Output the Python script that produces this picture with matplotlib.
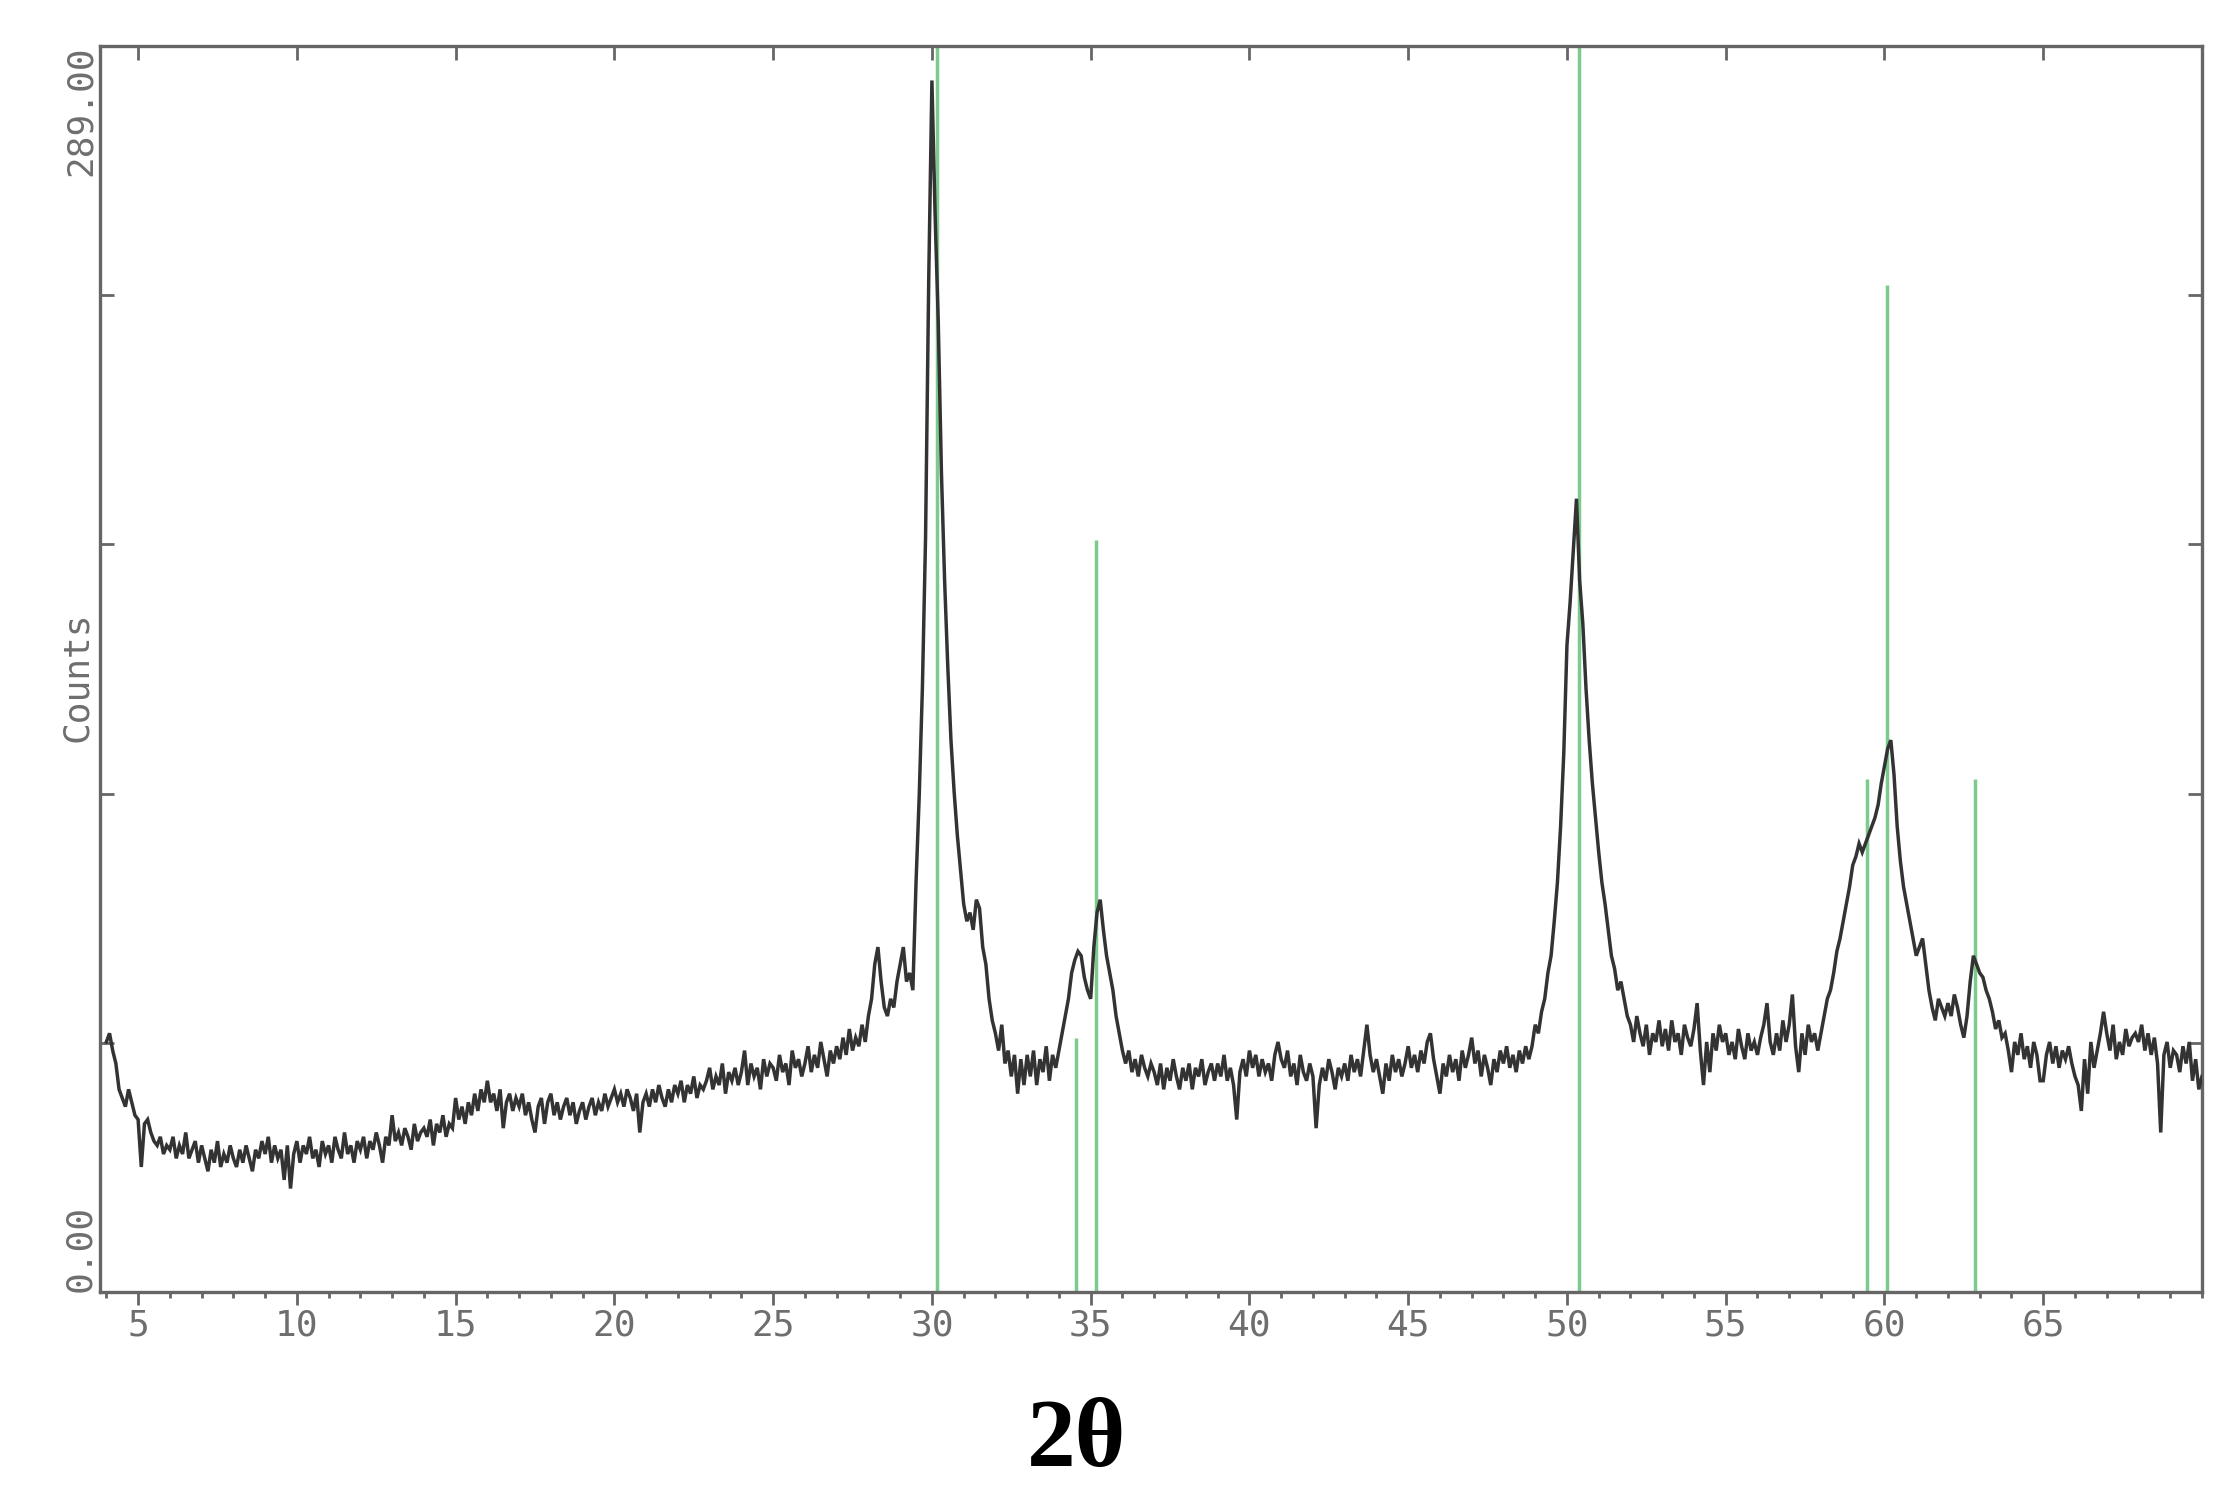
import numpy as np
import matplotlib
matplotlib.use("Agg")
import matplotlib.pyplot as plt
from matplotlib.ticker import MultipleLocator, FixedLocator

# ---------------- data ----------------
scan_start = 4.0      # degrees 2-theta
scan_step = 0.1       # degrees per point

counts_rows = [
    [58, 60, 56, 53, 47, 45, 43, 47, 44, 41],   # 4.0 - 4.9
    [40, 29, 39, 40, 37, 35, 34, 36, 32, 34],   # 5
    [33, 36, 31, 34, 32, 37, 31, 33, 35, 30],   # 6
    [34, 31, 28, 33, 30, 35, 29, 32, 30, 34],   # 7
    [31, 29, 33, 30, 34, 31, 28, 33, 31, 35],   # 8
    [32, 36, 30, 34, 31, 33, 26, 34, 24, 32],   # 9
    [35, 30, 34, 32, 36, 31, 33, 29, 35, 32],   # 10
    [34, 30, 36, 33, 31, 37, 32, 34, 30, 35],   # 11
    [33, 36, 31, 35, 33, 37, 34, 30, 36, 34],   # 12
    [41, 35, 37, 34, 38, 36, 33, 39, 35, 37],   # 13
    [38, 36, 40, 34, 39, 37, 41, 36, 39, 38],   # 14
    [45, 40, 43, 39, 44, 41, 46, 42, 47, 44],   # 15
    [49, 44, 46, 42, 47, 38, 44, 46, 42, 45],   # 16
    [43, 46, 41, 44, 40, 37, 43, 45, 39, 44],   # 17
    [46, 41, 44, 40, 43, 45, 41, 44, 39, 42],   # 18
    [44, 40, 43, 45, 41, 44, 42, 46, 43, 45],   # 19
    [47, 44, 46, 43, 47, 45, 42, 46, 37, 44],   # 20
    [46, 43, 47, 44, 48, 45, 43, 47, 44, 48],   # 21
    [46, 49, 44, 48, 46, 50, 45, 48, 47, 49],   # 22
    [52, 47, 50, 48, 53, 46, 51, 49, 52, 48],   # 23
    [51, 56, 48, 53, 50, 52, 47, 54, 50, 53],   # 24
    [52, 49, 55, 51, 53, 48, 56, 52, 54, 50],   # 25
    [53, 57, 51, 55, 52, 58, 54, 50, 56, 53],   # 26
    [57, 54, 59, 55, 61, 56, 59, 57, 62, 58],   # 27
    [64, 68, 76, 80, 72, 66, 64, 68, 66, 72],   # 28
    [76, 80, 72, 74, 70, 95, 115, 140, 175, 235],  # 29
    [281, 250, 225, 190, 165, 145, 128, 116, 106, 98],  # 30
    [90, 86, 88, 84, 91, 89, 80, 76, 68, 63],   # 31
    [60, 56, 62, 53, 56, 50, 55, 46, 54, 48],   # 32
    [55, 50, 56, 48, 54, 51, 57, 49, 55, 52],   # 33
    [56, 60, 64, 68, 74, 77, 79, 78, 73, 70],   # 34
    [68, 80, 88, 91, 84, 78, 74, 70, 64, 60],   # 35
    [56, 53, 56, 51, 54, 50, 55, 52, 50, 53],   # 36
    [51, 48, 53, 47, 52, 49, 54, 50, 47, 52],   # 37
    [49, 53, 47, 52, 50, 54, 48, 51, 53, 49],   # 38
    [53, 50, 55, 49, 52, 48, 40, 51, 54, 50],   # 39
    [56, 52, 55, 50, 54, 51, 53, 49, 55, 58],   # 40
    [54, 52, 56, 50, 53, 48, 55, 51, 49, 53],   # 41
    [50, 38, 48, 52, 49, 54, 51, 47, 52, 50],   # 42
    [53, 49, 55, 51, 54, 50, 56, 62, 55, 51],   # 43
    [54, 50, 46, 53, 49, 55, 51, 54, 50, 53],   # 44
    [57, 52, 55, 51, 56, 53, 58, 60, 54, 50],   # 45
    [46, 53, 50, 55, 51, 54, 49, 56, 52, 55],   # 46
    [59, 53, 56, 50, 55, 52, 48, 54, 51, 56],   # 47
    [53, 57, 52, 55, 51, 56, 53, 57, 54, 57],   # 48
    [62, 60, 65, 68, 74, 78, 86, 95, 108, 125],  # 49
    [150, 160, 172, 184, 165, 155, 140, 128, 118, 110],  # 50
    [102, 95, 90, 84, 78, 75, 70, 72, 68, 64],  # 51
    [62, 58, 64, 60, 57, 62, 55, 60, 58, 63],   # 52
    [57, 61, 56, 63, 58, 60, 55, 62, 59, 57],   # 53
    [61, 67, 56, 48, 58, 51, 60, 56, 62, 58],   # 54
    [60, 55, 58, 54, 61, 57, 54, 60, 56, 58],   # 55
    [55, 59, 62, 67, 58, 55, 60, 56, 63, 58],   # 56
    [62, 69, 57, 51, 60, 55, 62, 58, 60, 56],   # 57
    [60, 64, 68, 70, 74, 79, 82, 86, 90, 94],   # 58
    [99, 101, 104, 102, 104, 106, 108, 110, 113, 118],  # 59
    [122, 126, 128, 120, 108, 100, 94, 90, 86, 82],  # 60
    [78, 80, 82, 76, 70, 66, 63, 68, 66, 64],   # 61
    [67, 64, 69, 66, 62, 59, 64, 72, 78, 76],   # 62
    [74, 73, 70, 68, 65, 61, 63, 59, 60, 56],   # 63
    [51, 58, 55, 60, 54, 57, 52, 58, 55, 49],   # 64
    [49, 55, 58, 53, 57, 52, 56, 54, 57, 53],   # 65
    [50, 48, 42, 54, 46, 58, 52, 56, 60, 65],   # 66
    [60, 56, 62, 54, 58, 55, 61, 57, 59, 60],   # 67
    [58, 62, 56, 60, 55, 59, 53, 37, 55, 58],   # 68
    [52, 56, 55, 51, 57, 53, 58, 49, 54, 47],   # 69
    [50],                                       # 70.0
]
counts = np.array([c for row in counts_rows for c in row], dtype=float)
two_theta = np.round(scan_start + scan_step * np.arange(counts.size), 2)

# reference pattern (green stick lines)
stick_positions = [30.15, 34.53, 35.17, 50.37, 59.44, 60.07, 62.84]
stick_heights = [289, 59, 174.5, 289, 119, 233.6, 119]

x_min, x_max = 3.8, 70.0
x_tick_values = [5, 10, 15, 20, 25, 30, 35, 40, 45, 50, 55, 60, 65]
y_max = 289.0
y_tick_labels = ["0.00", "289.00"]
x_label = "2θ"
y_label = "Counts"

# ---------------- figure ----------------
W, H = 2231, 1506
fig = plt.figure(figsize=(W / 100, H / 100), dpi=100)
fig.patch.set_facecolor("white")
left_px, right_px, top_px, bottom_px = 100, 2202, 46, 1292
ax = fig.add_axes([left_px / W, 1 - bottom_px / H,
                   (right_px - left_px) / W, (bottom_px - top_px) / H])

spine_col = "#666666"
text_col = "#6e6e6e"
mono = "DejaVu Sans Mono"

ax.vlines(stick_positions, 0, stick_heights, colors="#7ccb8d", lw=2.5, zorder=2)
ax.plot(two_theta, counts, color="#333333", lw=2.5, zorder=3,
        solid_joinstyle="miter")

ax.set_xlim(x_min, x_max)
ax.set_ylim(0, y_max)

for s in ax.spines.values():
    s.set_color(spine_col)
    s.set_linewidth(2.4)

# bottom x ticks (outward, labelled)
ax.xaxis.set_major_locator(FixedLocator(x_tick_values))
ax.xaxis.set_minor_locator(MultipleLocator(1))
ax.tick_params(axis="x", which="major", direction="out", length=9, width=2,
               color=spine_col, pad=3, labelsize=26, labelcolor=text_col,
               top=False)
ax.tick_params(axis="x", which="minor", direction="out", length=4, width=2,
               color=spine_col, top=False)
for lab in ax.get_xticklabels():
    lab.set_fontfamily(mono)

# top ticks (inward, no labels)
top = ax.secondary_xaxis("top")
top.xaxis.set_major_locator(FixedLocator(x_tick_values))
top.tick_params(axis="x", which="major", direction="in", length=10, width=2,
                color=spine_col, labeltop=False)
top.spines["top"].set_visible(False)

# y ticks: inward on both sides, labels only at ends
ax.set_yticks([0, y_max], labels=y_tick_labels)
ax.set_yticks([y_max * k / 5 for k in range(1, 5)], minor=True)
ax.tick_params(axis="y", which="both", direction="in", length=10, width=2,
               color=spine_col, left=True, right=True, pad=14,
               labelsize=26, labelcolor=text_col)
ylabs = ax.get_yticklabels()
for lab in ylabs:
    lab.set_rotation(90)
    lab.set_fontfamily(mono)
    lab.set_ha("center")
ylabs[0].set_va("bottom")
ylabs[1].set_va("top")

fig.text(77 / W, 1 - 677 / H, y_label, rotation=90, ha="center", va="center",
         fontsize=26, color=text_col, family=mono)

ax.set_xlabel(x_label, fontsize=70, fontweight="bold",
              family=["Liberation Serif", "DejaVu Serif"], color="black")
ax.xaxis.set_label_coords((1077 - left_px) / (right_px - left_px), -0.085)
ax.xaxis.label.set_va("top")

fig.savefig("out.png", dpi=100, facecolor="white")
